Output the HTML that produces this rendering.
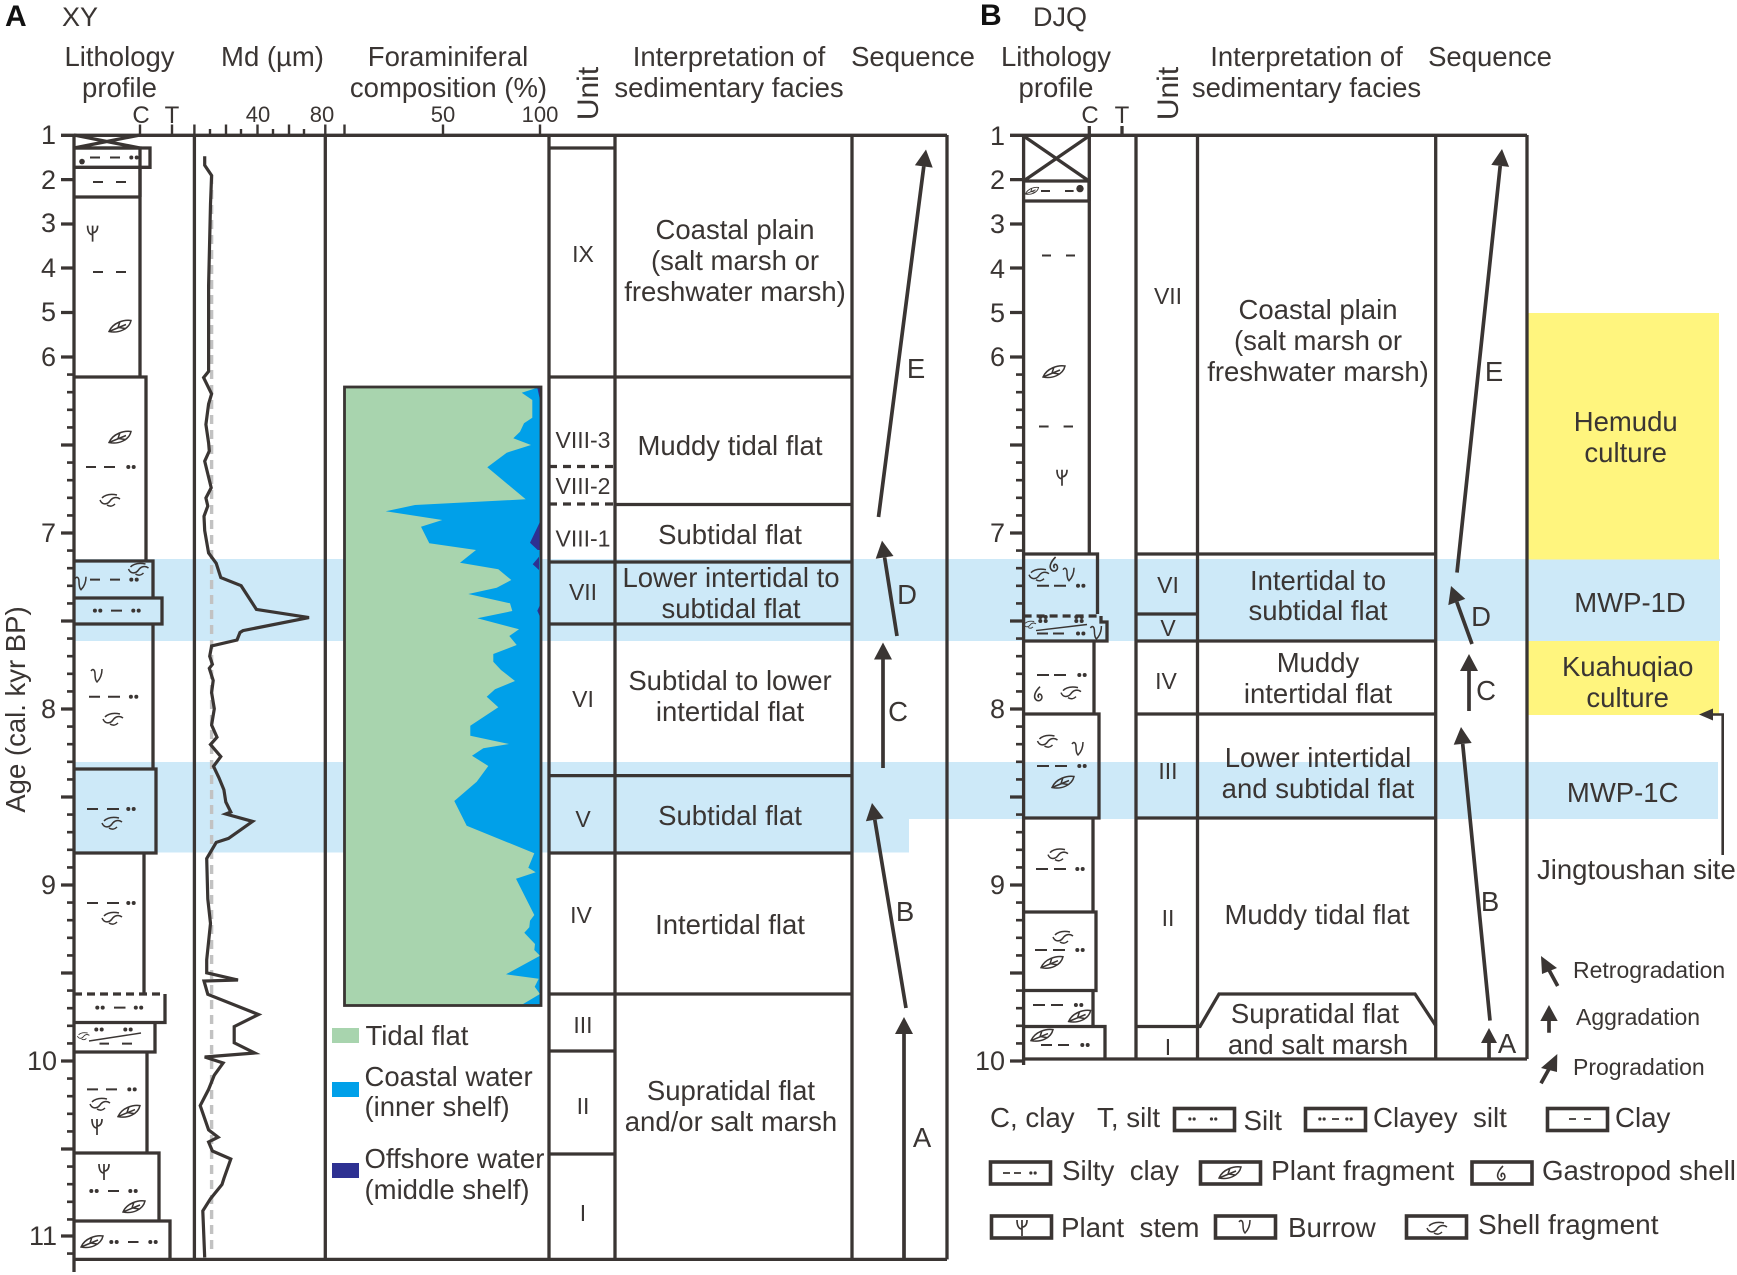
<!DOCTYPE html>
<html><head><meta charset="utf-8"><title>XY and DJQ sedimentary profiles</title>
<style>
html,body{margin:0;padding:0;background:#fff}
svg{display:block}
text{font-family:"Liberation Sans",sans-serif;fill:#3a3533;font-size:27.5px}
.m{text-anchor:middle}
.n{font-size:27px;text-anchor:end}
.u{font-size:23px;text-anchor:middle}
.a{font-size:22px;text-anchor:middle}
.ct{font-size:24px;text-anchor:middle}
.un{font-size:30px;text-anchor:middle}
.l{font-size:27.7px;white-space:pre}
.s{font-size:23px}
.b{font-size:30px;font-weight:bold;fill:#111}
.ln{stroke:#3a3533;stroke-width:3.3;fill:none}
.tn{stroke:#3a3533;stroke-width:2;fill:none}
.th{stroke:#3a3533;stroke-width:1.4;fill:none}
.ar{stroke:#3a3533;stroke-width:3.7;fill:none}
.hd{fill:#3a3533;stroke:none}
</style></head><body>
<svg width="1737" height="1275" viewBox="0 0 1737 1275" xmlns="http://www.w3.org/2000/svg">
<defs>
<g id="leaf" fill="none" stroke="#3a3533" stroke-width="1.5"><path d="M-11,5C-7,-4 4,-7 11,-6C9,3 -2,7 -11,5ZM-11,5L6,-2M-2,1L0,-5M-1,1L5,2"/></g>
<g id="sh" fill="none" stroke="#3a3533" stroke-width="1.5"><path d="M-10,0C-8,5 -3,5 0,1C2,-2 6,-4 10,-1M-8,-2C-4,-6 2,-6 7,-5M-3,5C0,7 3,6 5,4"/></g>
<g id="st" fill="none" stroke="#3a3533" stroke-width="1.7"><path d="M0,-7V9M-5,-7C-5,-1 -3,2 0,2M5,-7C5,-2 3,0 0,0"/></g>
<g id="bu" fill="none" stroke="#3a3533" stroke-width="1.5"><path d="M-6,-5C-4,-8 -2,-6 -2,-2C-2,2 -1,5 0,6C3,3 5,-2 5,-7"/></g>
<g id="ga" fill="none" stroke="#3a3533" stroke-width="1.6"><path d="M1,-8C-4,-3 -6,2 -3,5C0,8 5,4 2,0C0,-2 -2,1 0,3"/></g>
<g id="dt" fill="#3a3533"><circle cx="-2.7" r="2"/><circle cx="2.7" r="2"/></g>
</defs>

<!-- bands -->
<rect x="74" y="559" width="1646" height="82" fill="#cde9f8"/>
<path d="M74 762H1718V819H909V852.5H74Z" fill="#cde9f8"/>
<rect x="1527" y="313" width="192" height="246.5" fill="#fff57e"/>
<rect x="1527" y="641" width="192" height="74" fill="#fff57e"/>

<!-- Titles A -->
<text class="b" x="5" y="26">A</text>
<text x="62" y="26" style="font-size:27px">XY</text>
<text class="m" x="119.5" y="66">Lithology</text>
<text class="m" x="119.5" y="97">profile</text>
<text class="m" x="272.5" y="66">Md (µm)</text>
<text class="m" x="448" y="66">Foraminiferal</text>
<text class="m" x="448.5" y="97">composition (%)</text>
<text class="un" transform="translate(598,93.5) rotate(-90)">Unit</text>
<text class="m" x="729" y="66">Interpretation of</text>
<text class="m" x="729" y="97">sedimentary facies</text>
<text class="m" x="913" y="66">Sequence</text>
<text class="ct" x="141" y="123">C</text><text class="ct" x="172" y="123">T</text>
<text class="a" x="258" y="122">40</text><text class="a" x="322" y="122">80</text>
<text class="a" x="443" y="122">50</text><text class="a" x="540" y="122">100</text>
<text transform="translate(25,709.5) rotate(-90)" class="m">Age (cal. kyr BP)</text>

<!-- Foram panel -->
<rect x="344.5" y="387" width="196.5" height="618.5" fill="#a8d4ae"/>
<path fill="#00a0e9" d="M537.3 387.7L521.7 392.7L532.3 400V417.7L524 423.3L520 431.7L513.3 438.3L531 445L506.7 452.7L487.3 467.3L525.7 499.3L415 505L385.7 511.3L442.3 520L421 526.7L429.3 543.3L476 550L460 562.7L498.3 569.3L511.3 580L496.7 587.7L468.3 594L510 603.3L512.3 611L477.3 618.3L519 629.3L509.3 636L516.7 645L493.3 654V661.7L501 670L515 681L495 689.3L486.7 696.7L498.3 707.3L470.3 725.7V735.7L509 744L483.3 748.3L472 755.7L488.3 766L476.7 781.7L454.3 801L466.7 825.7L534.3 853.3L528.3 867.7L535.7 872.3L516 878.7L534.3 915L530 920.7L529.3 927.3L524.3 932.7L535 944L534.3 950L540 955.7L506 974.3L538.7 978.7L534.7 986.7L540 994L522.7 1004.3L541 1005V387.7Z"/>
<path fill="#2e3192" d="M537.3 387.7L540 400V387.7ZM540 521.7L530 542.7L537.7 550H541V521.7ZM539 556.7L532.7 564.3L539 570ZM540 605L537.3 610.7L540 616.7Z"/>
<rect x="344.5" y="387" width="196.5" height="618.5" class="ln" style="stroke-width:2.8"/>

<!-- Panel A frame -->
<path class="ln" d="M61 135.3H947M74 135V1272M74 1259.4H947M194.4 135V1259.4M325.3 135V1259.4M549 135V1259.4M615 135V1259.4M852 135V1259.4M947 135V1259.4"/>
<path class="tn" style="stroke-width:2.4" d="M140 124.5V134.7M172 124.5V134.7M194.4 124.5V134.7M210 129V134.7M226 124.5V134.7M241 129V134.7M257.5 124.5V134.7M273 129V134.7M289 124.5V134.7M304 129V134.7M325.3 124.5V134.7M344.5 124.5V134.7M443 124.5V134.7M540 124.5V134.7"/>
<path class="ln" d="M61 179.6H74M61 224H74M61 268H74M61 312.5H74M61 357H74M61 445H74M61 533H74M61 621H74M61 709H74M61 797H74M61 885H74M61 973H74M61 1061H74M61 1149H74M61 1236H74"/>
<path class="ln" style="stroke-width:2.6" d="M67 374.6H74M67 392.2H74M67 409.8H74M67 427.4H74M67 462.6H74M67 480.2H74M67 497.8H74M67 515.4H74M67 550.6H74M67 568.2H74M67 585.8H74M67 603.4H74M67 638.6H74M67 656.2H74M67 673.8H74M67 691.4H74M67 726.6H74M67 744.2H74M67 761.8H74M67 779.4H74M67 814.6H74M67 832.2H74M67 849.8H74M67 867.4H74M67 902.6H74M67 920.2H74M67 937.8H74M67 955.4H74M67 990.6H74M67 1008.2H74M67 1025.8H74M67 1043.4H74M67 1078.6H74M67 1096.2H74M67 1113.8H74M67 1131.4H74M67 1166.6H74M67 1184.2H74M67 1201.8H74M67 1219.4H74M67 1253.6H74"/>
<text class="n" x="56" y="144">1</text><text class="n" x="56" y="189">2</text><text class="n" x="56" y="232">3</text><text class="n" x="56" y="277">4</text><text class="n" x="56" y="321">5</text><text class="n" x="56" y="366">6</text><text class="n" x="56" y="542">7</text><text class="n" x="56" y="718">8</text><text class="n" x="56" y="894">9</text><text class="n" x="57" y="1070">10</text><text class="n" x="57" y="1245">11</text>

<!-- Panel A lithology boxes -->
<path class="ln" d="M74 148H140V197M74 135L140 148M74 148L140 135"/>
<path class="ln" d="M74 148H150V167.3H74M140 167.3V377M74 197H140M74 377H146V561M74 561H153V598M74 598H162V624H74M153 624V769M74 769H156V853H74M144 853V994"/>
<path class="ln" d="M74 994H165" stroke-dasharray="8 5"/>
<path class="ln" d="M165 994V1022.5H74M155 1022.5V1052H74M147 1052V1153M74 1153H159V1221M74 1221H170V1259"/>
<circle cx="82" cy="161.6" r="2.8" fill="#3a3533"/>
<path class="tn" d="M90 157.5h10M110 157.5h10M93 182h10M116 182h10M93 272h10M116 272h10M86 467h10M104 467h11M90 579.6h10M110 579.6h10M111 610.6h11M89 696.7h11M108 696.7h12M87 809h11M107 809h12M87 903h11M107 903h12M114 1007.6h11.5M99.5 1043.6h9.5M122 1043.6h10M87 1089.4h11M106 1089.4h11M108 1191h11M128 1242h10.5"/>
<path class="th" d="M89 1041L141 1033"/>
<use href="#dt" x="134" y="157.5"/><use href="#dt" x="131" y="467"/><use href="#dt" x="134" y="579.6"/><use href="#dt" x="97.6" y="610.6"/><use href="#dt" x="136" y="610.6"/><use href="#dt" x="133.6" y="696.7"/><use href="#dt" x="131" y="809"/><use href="#dt" x="131" y="903"/><use href="#dt" x="100" y="1007.6"/><use href="#dt" x="138.5" y="1007.6"/><use href="#dt" x="99" y="1029.5"/><use href="#dt" x="128" y="1029.5"/><use href="#dt" x="132" y="1089.4"/><use href="#dt" x="94" y="1191"/><use href="#dt" x="133" y="1191"/><use href="#dt" x="114" y="1242"/><use href="#dt" x="153" y="1242"/>
<use href="#st" x="92.6" y="232.6"/><use href="#leaf" x="120" y="326.5"/><use href="#leaf" x="120" y="437.5"/><use href="#sh" x="110" y="500"/><use href="#sh" x="138.5" y="569"/><use href="#bu" x="81" y="583.7"/><use href="#bu" x="97" y="676"/><use href="#sh" x="113" y="719"/><use href="#sh" x="112" y="823"/><use href="#sh" x="112" y="918"/><use href="#sh" transform="translate(83.4,1036) scale(.6)"/><use href="#sh" x="100" y="1104"/><use href="#leaf" x="129" y="1111.6"/><use href="#st" x="97" y="1126"/><use href="#st" x="104" y="1171"/><use href="#leaf" x="134" y="1207"/><use href="#leaf" x="92" y="1242"/>

<!-- Md curve -->
<path d="M211.6 175V1251" fill="none" stroke="#c2c2c2" stroke-width="3.4" stroke-dasharray="9 6"/>
<path class="ln" style="stroke-width:3.2;stroke-linejoin:miter" d="M204.7 156.3L204.7 165.3L211.6 175.5L210.5 204L208.6 285.7L208.6 371.4L203.6 377.6L211.6 393.9L208.6 404L205.9 424.5L208.6 442.9L209.3 451L204.7 461.2L211.2 487.8L205.9 498L207.8 506L204 516.3L204.7 530.6L208.6 553L216.2 563.3L220.8 577.6L241.1 585.7L256.4 609.4L309 617.6L243 630.6L240 632.5L237 640L211.6 646L209.7 656.2L212.4 664.3L209.3 668.3L213.2 680.5L211.6 692.6L214.3 708.8L211.6 725L217 737.2L210.5 744.5L220.8 756.6L213.5 766.3L218.9 777.7L223.9 789.8L225.8 802L230.8 812L225.8 814L252.6 821.4L228.5 838.4L216.2 842.4L206.7 858.6L207.8 899L210.5 923.4L206.7 959.8L206.7 972.8L238 980L204 981L207.8 994.3L258.5 1014.5L234.2 1026.6L234.2 1042.8L254.7 1053L204.7 1057L223.1 1063L214.3 1075.2L208.6 1089.4L200.2 1105.6L208.6 1129.9L218.1 1137.2L208.6 1142L212.4 1151L230.8 1159L223.9 1178.5L222 1184.5L210.5 1198.7L202.8 1210.9L204.7 1257.4"/>

<!-- Panel A unit/facies lines -->
<path class="ln" d="M549 148H615M549 377H852M615 504.5H852M549 562H852M549 624H852M549 775.6H852M549 853H852M549 994H852M549 1051H615M549 1154H615"/>
<path class="ln" stroke-dasharray="8 6" d="M549 466.5H615M549 504H615"/>
<text class="u" x="583" y="262">IX</text><text class="u" x="583" y="448">VIII-3</text><text class="u" x="583" y="494">VIII-2</text><text class="u" x="583" y="546.5">VIII-1</text><text class="u" x="583" y="600">VII</text><text class="u" x="583" y="707">VI</text><text class="u" x="583" y="827">V</text><text class="u" x="581" y="923">IV</text><text class="u" x="583" y="1033">III</text><text class="u" x="583" y="1114">II</text><text class="u" x="583" y="1221">I</text>
<text class="m" x="735" y="239">Coastal plain</text><text class="m" x="735" y="270">(salt marsh or</text><text class="m" x="735" y="301">freshwater marsh)</text>
<text class="m" x="730" y="455">Muddy tidal flat</text>
<text class="m" x="730" y="544">Subtidal flat</text>
<text class="m" x="731" y="587">Lower intertidal to</text><text class="m" x="731" y="618">subtidal flat</text>
<text class="m" x="730" y="690">Subtidal to lower</text><text class="m" x="730" y="721">intertidal flat</text>
<text class="m" x="730" y="825">Subtidal flat</text>
<text class="m" x="730" y="934">Intertidal flat</text>
<text class="m" x="731" y="1100">Supratidal flat</text><text class="m" x="731" y="1131">and/or salt marsh</text>
<!-- Panel A arrows -->
<path class="ar" d="M878.5 517L923.8 166.4M897 636L884.6 557.4M883 768V659.5M906 1008L874.8 819.8M904 1258V1034"/>
<path class="hd" d="M926 149.5L932.7 167.6L914.9 165.2ZM882 540.6L893.5 556L875.7 558.8ZM883 642.5L892 659.5H874ZM872 803L883.7 818.3L865.9 821.3ZM904 1017L913 1034H895Z"/>
<text class="m" x="916" y="378">E</text><text class="m" x="907" y="604">D</text><text class="m" x="898" y="721">C</text><text class="m" x="905" y="921">B</text><text class="m" x="922" y="1147">A</text>

<!-- Legend A -->
<rect x="332" y="1028" width="27" height="15" fill="#a8d4ae"/>
<rect x="332" y="1082" width="27" height="15" fill="#00a0e9"/>
<rect x="332" y="1163" width="27" height="15" fill="#2e3192"/>
<text x="365.5" y="1045">Tidal flat</text>
<text x="364.5" y="1086">Coastal water</text><text x="364.5" y="1116">(inner shelf)</text>
<text x="364.5" y="1168">Offshore water</text><text x="364.5" y="1199">(middle shelf)</text>

<!-- Titles B -->
<text class="b" x="980" y="25">B</text>
<text x="1033" y="26" style="font-size:27px">DJQ</text>
<text class="m" x="1056" y="66">Lithology</text><text class="m" x="1056" y="97">profile</text>
<text class="ct" x="1090" y="123">C</text><text class="ct" x="1122" y="123">T</text>
<text class="un" transform="translate(1178,93.5) rotate(-90)">Unit</text>
<text class="m" x="1306.5" y="66">Interpretation of</text><text class="m" x="1306.5" y="97">sedimentary facies</text>
<text class="m" x="1490" y="66">Sequence</text>

<!-- Panel B frame -->
<path class="ln" d="M1010 135.3H1527M1023.6 135V1065M1023.6 1059H1527M1089.3 126V201M1122 126V134.7M1136 135V1059M1197.5 135V1059M1435.7 135V1059M1527 135V1059"/>
<path class="ln" d="M1010 179.6H1024M1010 224H1024M1010 268H1024M1010 312.5H1024M1010 357H1024M1010 445H1024M1010 533H1024M1010 621H1024M1010 709H1024M1010 797H1024M1010 885H1024M1010 973H1024M1010 1061H1024"/>
<path class="ln" style="stroke-width:2.6" d="M1016 374.6H1024M1016 392.2H1024M1016 409.8H1024M1016 427.4H1024M1016 462.6H1024M1016 480.2H1024M1016 497.8H1024M1016 515.4H1024M1016 550.6H1024M1016 568.2H1024M1016 585.8H1024M1016 603.4H1024M1016 638.6H1024M1016 656.2H1024M1016 673.8H1024M1016 691.4H1024M1016 726.6H1024M1016 744.2H1024M1016 761.8H1024M1016 779.4H1024M1016 814.6H1024M1016 832.2H1024M1016 849.8H1024M1016 867.4H1024M1016 902.6H1024M1016 920.2H1024M1016 937.8H1024M1016 955.4H1024M1016 990.6H1024M1016 1008.2H1024M1016 1025.8H1024M1016 1043.4H1024"/>
<text class="n" x="1005" y="145">1</text><text class="n" x="1005" y="189">2</text><text class="n" x="1005" y="233">3</text><text class="n" x="1005" y="278">4</text><text class="n" x="1005" y="322">5</text><text class="n" x="1005" y="366">6</text><text class="n" x="1005" y="542">7</text><text class="n" x="1005" y="718">8</text><text class="n" x="1005" y="894">9</text><text class="n" x="1005" y="1070">10</text>

<!-- B lithology -->
<path class="ln" d="M1023.6 136L1089 181M1023.6 181L1089 136M1023.6 181H1089V201H1023.6M1089.3 201V554M1023.6 554H1097.5V614"/>
<path class="ln" stroke-dasharray="8 5" d="M1023.6 616H1101"/>
<path class="ln" d="M1101 616V622H1107V641H1023.6M1094 641V714M1023.6 714H1099V818H1023.6M1093 818V912M1023.6 912H1096V990.5H1023.6M1093 990.5V1026.5M1023.6 1026.5H1105V1059"/>
<path class="tn" d="M1041 191h9M1065 191h8.6M1042 255.5h9M1066 255.5h9M1039 426.5h9.6M1063.6 426.5h9.4M1037 585.7h12M1054 585.7h12M1037 633.5h11M1053 633.5h11M1037 675h12M1054 675h12M1037 766h12M1055 766h12M1036 869h12M1054 869h12M1035 950h12M1053 950h12M1033 1005h12M1051 1005h12M1041 1045h11M1058 1045h11"/>
<path class="th" d="M1036 630.6L1087 624.5"/>
<circle cx="1080" cy="188.6" r="3.7" fill="#3a3533"/>
<use href="#dt" x="1080.7" y="585.7"/><use href="#dt" x="1043" y="617"/><use href="#dt" x="1079" y="617"/><use href="#dt" x="1043" y="621"/><use href="#dt" x="1079" y="621"/><use href="#dt" x="1080.7" y="633.5"/><use href="#dt" x="1082" y="675"/><use href="#dt" x="1082" y="766"/><use href="#dt" x="1080" y="869"/><use href="#dt" x="1080" y="950"/><use href="#dt" x="1078.6" y="1005"/><use href="#dt" x="1085" y="1045"/>
<use href="#leaf" transform="translate(1032,191) scale(.6)"/><use href="#leaf" x="1054" y="372"/><use href="#st" x="1062" y="476.7"/><use href="#sh" x="1039" y="574.7"/><use href="#ga" x="1054.6" y="565"/><use href="#bu" x="1069" y="574.7"/><use href="#sh" transform="translate(1030,624.5) scale(.6)"/><use href="#bu" x="1096.4" y="633"/><use href="#ga" x="1039" y="694.7"/><use href="#sh" x="1071" y="692.6"/><use href="#sh" x="1047.5" y="741"/><use href="#bu" x="1078" y="749"/><use href="#leaf" x="1063" y="782.5"/><use href="#sh" x="1058" y="854.6"/><use href="#sh" x="1063" y="937"/><use href="#leaf" x="1052" y="962.7"/><use href="#leaf" x="1079.6" y="1016.5"/><use href="#leaf" x="1042" y="1035.6"/>

<!-- B unit/facies -->
<path class="ln" d="M1136 554H1436M1136 614H1197.5M1136 641H1436M1136 714H1436M1136 818H1436M1136 1026.5H1200L1219 994H1415L1436 1026"/>
<text class="u" x="1168" y="304">VII</text><text class="u" x="1168" y="593">VI</text><text class="u" x="1168" y="636">V</text><text class="u" x="1166" y="689">IV</text><text class="u" x="1168" y="779">III</text><text class="u" x="1168" y="926">II</text><text class="u" x="1168" y="1055">I</text>
<text class="m" x="1318" y="319">Coastal plain</text><text class="m" x="1318" y="350">(salt marsh or</text><text class="m" x="1318" y="381">freshwater marsh)</text>
<text class="m" x="1318" y="590">Intertidal to</text><text class="m" x="1318" y="620">subtidal flat</text>
<text class="m" x="1318" y="672">Muddy</text><text class="m" x="1318" y="703">intertidal flat</text>
<text class="m" x="1318" y="767">Lower intertidal</text><text class="m" x="1318" y="798">and subtidal flat</text>
<text class="m" x="1317" y="924">Muddy tidal flat</text>
<text class="m" x="1315" y="1023">Supratidal flat</text><text class="m" x="1318" y="1054">and salt marsh</text>

<!-- B arrows -->
<path class="ar" d="M1457 572.6L1500.2 165.9M1472 644L1456.8 602M1469 711V671M1490 1020.6L1462.7 743.9M1489 1059V1043"/>
<path class="hd" d="M1502 149L1509.1 166.9L1491.3 164.9ZM1451 586L1465.3 598.9L1448.3 605.1ZM1469 654L1478 671H1460ZM1461 727L1471.7 743L1453.7 744.8ZM1489 1028L1497 1043H1481Z"/>
<text class="m" x="1494" y="381">E</text><text class="m" x="1481" y="626">D</text><text class="m" x="1486" y="700">C</text><text class="m" x="1490" y="911">B</text><text class="m" x="1507" y="1053">A</text>

<!-- Right labels -->
<text class="m" x="1625.7" y="431">Hemudu</text><text class="m" x="1625.7" y="462">culture</text>
<text class="m" x="1630" y="612">MWP-1D</text>
<text class="m" x="1627.7" y="676">Kuahuqiao</text><text class="m" x="1627.7" y="707">culture</text>
<text class="m" x="1622.7" y="802">MWP-1C</text>
<text x="1537" y="879">Jingtoushan site</text>
<path class="tn" style="stroke-width:2.6" d="M1722.7 855V714.5H1712"/>
<path class="hd" d="M1699 714.5L1713 708.5V720.5Z"/>

<!-- Sequence legend -->
<path class="ar" d="M1557.7 986L1549 970M1549 1032.7V1020M1541 1083.3L1549 1069"/>
<path class="hd" d="M1541 956L1557 968L1542 974ZM1549 1005L1557.7 1021H1540.3ZM1557.3 1054L1557 1072L1541 1068Z"/>
<text class="s" x="1573" y="978">Retrogradation</text>
<text class="s" x="1576" y="1025">Aggradation</text>
<text class="s" x="1573" y="1075">Progradation</text>

<!-- Bottom legend -->
<text class="l" x="990" y="1127">C, clay</text><text class="l" x="1097" y="1127">T, silt</text>
<text class="l" x="1243.5" y="1130">Silt</text><text class="l" x="1373" y="1127">Clayey  silt</text><text class="l" x="1615" y="1127">Clay</text>
<text class="l" x="1062" y="1180">Silty  clay</text><text class="l" x="1271" y="1180" style="font-size:28.2px">Plant fragment</text><text class="l" x="1542" y="1180">Gastropod shell</text>
<text class="l" x="1061" y="1237">Plant  stem</text><text class="l" x="1288" y="1237">Burrow</text><text class="l" x="1478" y="1234" style="font-size:28px">Shell fragment</text>
<g style="stroke-width:3.6">
<rect class="ln" style="stroke-width:3.6" x="1174.5" y="1108.5" width="60" height="22"/><rect class="ln" style="stroke-width:3.6" x="1305.5" y="1108.5" width="60" height="22"/><rect class="ln" style="stroke-width:3.6" x="1547.5" y="1108.5" width="60" height="22"/>
<rect class="ln" style="stroke-width:3.6" x="990.5" y="1162" width="60" height="22"/><rect class="ln" style="stroke-width:3.6" x="1200.5" y="1162" width="60" height="22"/><rect class="ln" style="stroke-width:3.6" x="1472" y="1162" width="60" height="22"/>
<rect class="ln" style="stroke-width:3.6" x="991.5" y="1216" width="60" height="22"/><rect class="ln" style="stroke-width:3.6" x="1215.5" y="1216" width="60" height="22"/><rect class="ln" style="stroke-width:3.6" x="1406.5" y="1216" width="60" height="22"/>
</g>
<path class="tn" style="stroke-width:1.8" d="M1332 1119h7M1569 1119h7M1584 1119h7M1003 1173h7M1014 1173h7"/>
<use href="#dt" transform="translate(1192,1119) scale(.8)"/><use href="#dt" transform="translate(1213.6,1119) scale(.8)"/><use href="#dt" transform="translate(1322,1119) scale(.8)"/><use href="#dt" transform="translate(1349,1119) scale(.8)"/><use href="#dt" transform="translate(1033,1173) scale(.8)"/>
<use href="#leaf" x="1230" y="1173"/><use href="#ga" x="1502" y="1174"/><use href="#st" x="1022" y="1227"/><use href="#bu" x="1245" y="1227"/><use href="#sh" x="1437" y="1228"/>
</svg>
</body></html>
